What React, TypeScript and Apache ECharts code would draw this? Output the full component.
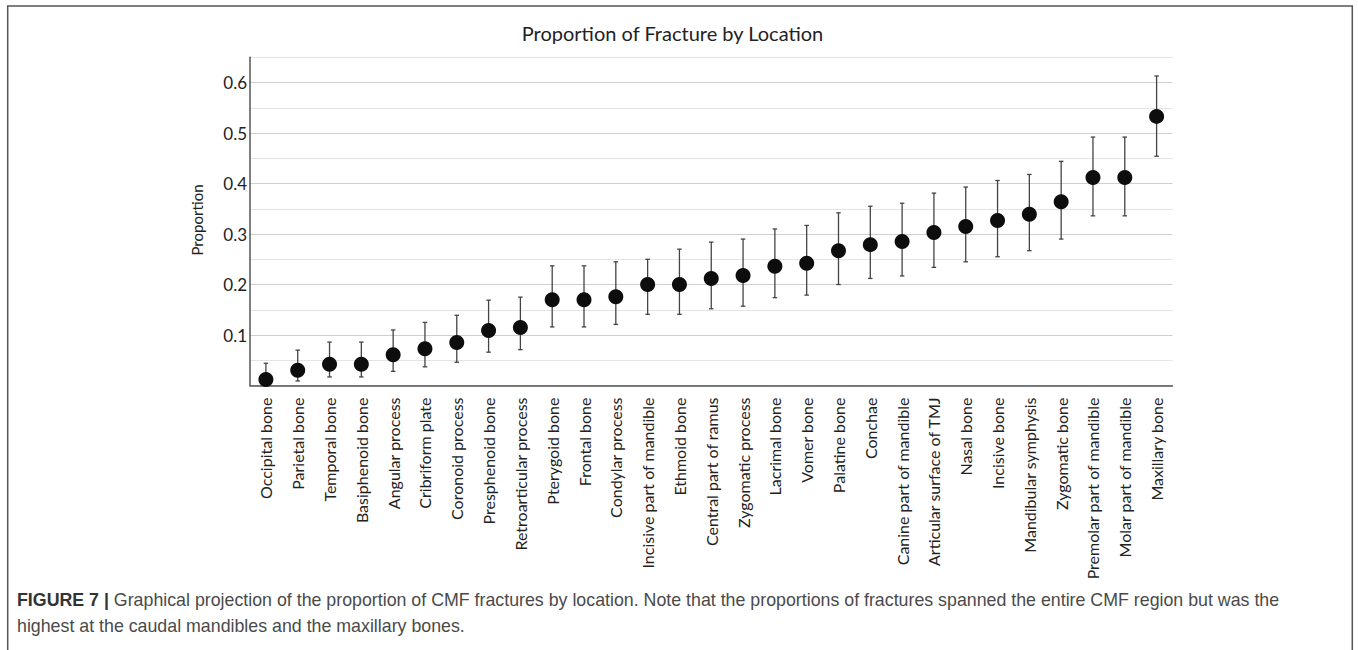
import React, { useEffect, useRef } from "react";
import * as echarts from "echarts";

const categories = [
  "Occipital bone", "Parietal bone", "Temporal bone", "Basiphenoid bone", "Angular process",
  "Cribriform plate", "Coronoid process", "Presphenoid bone", "Retroarticular process", "Pterygoid bone",
  "Frontal bone", "Condylar process", "Incisive part of mandible", "Ethmoid bone", "Central part of ramus",
  "Zygomatic process", "Lacrimal bone", "Vomer bone", "Palatine bone", "Conchae",
  "Canine part of mandible", "Articular surface of TMJ", "Nasal bone", "Incisive bone", "Mandibular symphysis",
  "Zygomatic bone", "Premolar part of mandible", "Molar part of mandible", "Maxillary bone",
];

const proportion = [
  0.012, 0.030, 0.042, 0.042, 0.061, 0.073, 0.085, 0.109, 0.115, 0.170,
  0.170, 0.176, 0.200, 0.200, 0.212, 0.218, 0.236, 0.242, 0.267, 0.279,
  0.285, 0.303, 0.315, 0.327, 0.339, 0.364, 0.412, 0.412, 0.533,
];

const lowerCI = [
  0.003, 0.009, 0.017, 0.017, 0.028, 0.037, 0.046, 0.066, 0.071, 0.116,
  0.116, 0.121, 0.141, 0.141, 0.152, 0.157, 0.174, 0.179, 0.200, 0.212,
  0.217, 0.234, 0.245, 0.255, 0.267, 0.290, 0.336, 0.336, 0.454,
];

const upperCI = [
  0.044, 0.070, 0.086, 0.086, 0.110, 0.125, 0.139, 0.169, 0.175, 0.237,
  0.237, 0.245, 0.250, 0.270, 0.284, 0.290, 0.310, 0.317, 0.342, 0.355,
  0.361, 0.381, 0.393, 0.406, 0.418, 0.444, 0.492, 0.492, 0.613,
];

const yTicks = [0.1, 0.2, 0.3, 0.4, 0.5, 0.6];

const titleText = "Proportion of Fracture by Location";
const yAxisTitle = "Proportion";
const captionBold = "FIGURE 7 |";
const captionLine1 =
  " Graphical projection of the proportion of CMF fractures by location. Note that the proportions of fractures spanned the entire CMF region but was the";
const captionLine2 = "highest at the caudal mandibles and the maxillary bones.";

const FONT = "Lato, 'Open Sans', sans-serif";
const CAP_FONT = "'Liberation Sans', Arial, sans-serif";

export default function App() {
  const ref = useRef<HTMLDivElement>(null);

  useEffect(() => {
    if (!ref.current) return;
    const chart = echarts.init(ref.current, null, { renderer: "svg" });
    const errData = categories.map((_, i) => [i, lowerCI[i], upperCI[i]]);

    chart.setOption({
      animation: false,
      backgroundColor: "#ffffff",
      grid: { left: 250, right: 185.5, top: 57.3, bottom: 264.5, containLabel: false },
      xAxis: {
        type: "category",
        data: categories,
        boundaryGap: true,
        axisLine: { show: true, lineStyle: { color: "#555555", width: 1.5 } },
        axisTick: { show: false },
        axisLabel: {
          interval: 0,
          rotate: 90,
          margin: 12,
          fontSize: 16,
          color: "#222222",
          fontFamily: FONT,
        },
        splitLine: { show: false },
      },
      yAxis: {
        type: "value",
        min: 0,
        max: 0.65,
        interval: 0.05,
        axisLine: { show: true, lineStyle: { color: "#555555", width: 1.5 } },
        axisTick: { show: false },
        axisLabel: {
          margin: 3,
          fontSize: 17,
          color: "#222222",
          fontFamily: FONT,
          formatter: (v: number) => {
            const hit = yTicks.find((t) => Math.abs(t - v) < 1e-6);
            return hit !== undefined ? hit.toFixed(1) : "";
          },
        },
        splitLine: {
          show: true,
          lineStyle: { color: ["#cfcfcf", "#e4e4e4"], width: 1.2 },
        },
      },
      series: [
        {
          type: "custom",
          name: "CI",
          data: errData,
          encode: { x: 0, y: [1, 2] },
          z: 2,
          renderItem: (params: any, api: any) => {
            const i = api.value(0);
            const lo = api.coord([i, api.value(1)]);
            const hi = api.coord([i, api.value(2)]);
            const w = 4.5;
            const st = { stroke: "#444444", lineWidth: 1.3 };
            return {
              type: "group",
              children: [
                { type: "line", shape: { x1: lo[0], y1: lo[1], x2: hi[0], y2: hi[1] }, style: st },
                { type: "line", shape: { x1: lo[0] - w / 2, y1: lo[1], x2: lo[0] + w / 2, y2: lo[1] }, style: st },
                { type: "line", shape: { x1: hi[0] - w / 2, y1: hi[1], x2: hi[0] + w / 2, y2: hi[1] }, style: st },
              ],
            };
          },
        },
        {
          type: "scatter",
          name: "Proportion",
          data: proportion,
          symbol: "circle",
          symbolSize: 15,
          itemStyle: { color: "#0d0d0d", opacity: 1 },
          z: 3,
        },
      ],
      graphic: [
        {
          type: "rect",
          shape: { x: 7.7, y: 6, width: 1344.6, height: 700 },
          style: { fill: "none", stroke: "#555555", lineWidth: 1.5 },
          silent: true,
        },
        {
          type: "text",
          x: 672.5,
          y: 33,
          style: {
            text: titleText,
            fontSize: 20,
            fontFamily: FONT,
            fill: "#222222",
            align: "center",
            verticalAlign: "middle",
          },
        },
        {
          type: "text",
          x: 197,
          y: 220,
          rotation: Math.PI / 2,
          style: {
            text: yAxisTitle,
            fontSize: 15,
            fontFamily: FONT,
            fill: "#222222",
            align: "center",
            verticalAlign: "middle",
          },
        },
        {
          type: "text",
          x: 17,
          y: 587,
          style: {
            text: "{b|" + captionBold + "}{n|" + captionLine1 + "}\n{n|" + captionLine2 + "}",
            verticalAlign: "top",
            align: "left",
            rich: {
              b: { fontFamily: CAP_FONT, fontWeight: "bold", fontSize: 17.8, fill: "#333333", lineHeight: 26 },
              n: { fontFamily: CAP_FONT, fontSize: 17.8, fill: "#4a4a4a", lineHeight: 26 },
            },
          },
        },
      ],
    });

    return () => chart.dispose();
  }, []);

  return (
    <div
      ref={ref}
      style={{ position: "absolute", left: 0, top: 0, width: 1358, height: 650 }}
    />
  );
}
